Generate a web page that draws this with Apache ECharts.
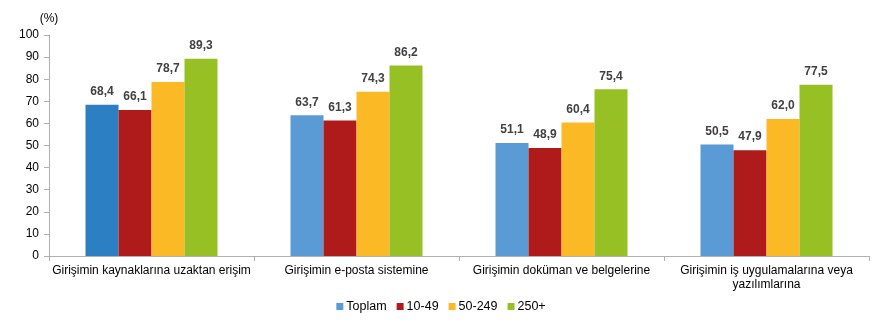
<!DOCTYPE html>
<html>
<head>
<meta charset="utf-8">
<script src="https://cdn.jsdelivr.net/npm/echarts@6/dist/echarts.min.js"></script>
<style>
html, body { margin: 0; padding: 0; background: #fff; }
#chart { width: 882px; height: 330px; }
</style>
</head>
<body>
<div id="chart"></div>
<script>
// Remote access categories by enterprise size class
const categories = [
  'Girişimin kaynaklarına uzaktan erişim',
  'Girişimin e-posta sistemine',
  'Girişimin doküman ve belgelerine',
  'Girişimin iş uygulamalarına veya\nyazılımlarına'
];
const seriesNames = ['Toplam', '10-49', '50-249', '250+'];
const toplam = [68.4, 63.7, 51.1, 50.5];
const size10to49 = [66.1, 61.3, 48.9, 47.9];
const size50to249 = [78.7, 74.3, 60.4, 62.0];
const size250plus = [89.3, 86.2, 75.4, 77.5];
const yTicks = { min: 0, max: 100, interval: 10 };

const colors = ['#5B9BD5', '#AF1A1A', '#FBB926', '#97C024'];
const firstToplamColor = '#2C7FC2';

const labelStyle = {
  show: true,
  position: 'top',
  distance: 7,
  fontFamily: 'Liberation Sans, Arial, sans-serif',
  fontSize: 12,
  fontWeight: 'bold',
  color: '#404040',
  formatter: p => p.value.toFixed(1).replace('.', ',')
};

const valueSets = [toplam, size10to49, size50to249, size250plus];
const series = valueSets.map((vals, i) => ({
  name: seriesNames[i],
  type: 'bar',
  barWidth: 33,
  barGap: '0%',
  itemStyle: { color: colors[i] },
  label: labelStyle,
  data: vals.map((v, j) => (i === 0 && j === 0)
    ? { value: v, itemStyle: { color: firstToplamColor } }
    : v)
}));

const chart = echarts.init(document.getElementById('chart'));
chart.setOption({
  animation: false,
  grid: { left: 49, right: 13, top: 35, bottom: 74 },
  legend: {
    data: seriesNames,
    bottom: 12,
    left: 'center',
    itemWidth: 7,
    itemHeight: 7,
    itemGap: 10,
    icon: 'rect',
    textStyle: { fontFamily: 'Liberation Sans, Arial, sans-serif', fontSize: 12.5, color: '#000', padding: [0, 0, 0, -2] }
  },
  xAxis: {
    type: 'category',
    data: categories,
    axisLine: { lineStyle: { color: '#B0B0B0' } },
    axisTick: { show: true, length: 5, lineStyle: { color: '#B0B0B0' } },
    axisLabel: {
      interval: 0,
      margin: 8,
      fontFamily: 'Liberation Sans, Arial, sans-serif',
      fontSize: 12,
      color: '#000',
      lineHeight: 14
    }
  },
  yAxis: {
    type: 'value',
    min: yTicks.min,
    max: yTicks.max,
    interval: yTicks.interval,
    name: '(%)',
    nameLocation: 'end',
    nameGap: 10,
    nameTextStyle: { fontFamily: 'Liberation Sans, Arial, sans-serif', fontSize: 12, color: '#000', align: 'center', padding: [0, 0, 0, 0] },
    axisLine: { show: true, lineStyle: { color: '#B0B0B0' } },
    axisTick: { show: true, length: 5, lineStyle: { color: '#B0B0B0' } },
    splitLine: { show: false },
    axisLabel: {
      margin: 10,
      fontFamily: 'Liberation Sans, Arial, sans-serif',
      fontSize: 12,
      color: '#000'
    }
  },
  series: series
});
</script>
</body>
</html>
